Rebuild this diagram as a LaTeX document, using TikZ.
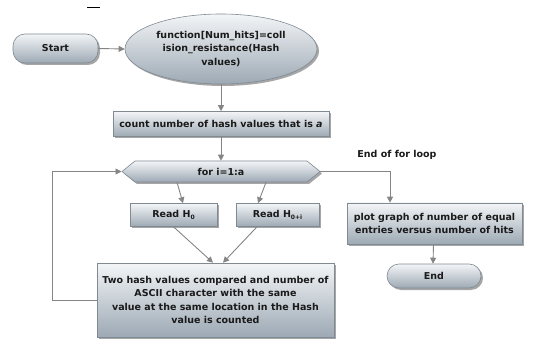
\documentclass[tikz,border=0pt]{standalone}
\usepackage{fontspec}
\setmainfont{DejaVu Sans}
\usetikzlibrary{arrows.meta,shapes.geometric,shapes.symbols,shadows}
\definecolor{boxtop}{HTML}{F3F5F7}
\definecolor{boxbot}{HTML}{9DA9B4}
\definecolor{boxline}{HTML}{7F8A93}
\definecolor{arrcol}{HTML}{858585}
\definecolor{txt}{HTML}{1A1A1A}
\newcommand{\lowsub}[1]{\raisebox{-2.2pt}{\fontsize{6}{6}\selectfont #1}}
\tikzset{
  fc/.style={draw=boxline, line width=0.6pt, top color=boxtop, bottom color=boxbot,
    drop shadow={shadow xshift=2pt, shadow yshift=-2pt, fill=black, opacity=0.35},
    inner sep=0pt, align=center, text=txt,
    font=\fontsize{9.5}{13.2}\selectfont\bfseries},
  rbox/.style={fc, rectangle},
  pill/.style={fc, rectangle, rounded corners=12pt},
  oval/.style={fc, ellipse},
  hexa/.style={fc, signal, signal to=west and east, signal pointer angle=78},
  arr/.style={draw=arrcol, line width=0.9pt, -{Triangle[length=6pt,width=6pt]}, arrcol},
  lbl/.style={text=txt, inner sep=0pt, font=\fontsize{9.5}{13}\selectfont\bfseries}
}
\begin{document}
\begin{tikzpicture}[x=1pt,y=-1pt]
\useasboundingbox (0,0) rectangle (546,339);
\draw[black, line width=1.6pt] (87,7.5) -- (100,7.5);
\node[pill, minimum width=85pt, minimum height=29pt] (start) at (55.5,48.5) {Start};
\node[oval, minimum width=192pt, minimum height=70pt] (func) at (221,49)
  {function[Num\_hits]=coll\\ision\_resistance(Hash\\values)};
\node[rbox, minimum width=216pt, minimum height=25pt] (count) at (221,124)
  {count number of hash values that is \textit{a}};
\node[hexa, minimum width=198pt, minimum height=21pt] (for) at (221,171.5) {for i=1:a};
\node[rbox, minimum width=87pt, minimum height=23pt] (r0) at (173.5,215) {Read H\lowsub{0}};
\node[rbox, minimum width=83pt, minimum height=23pt] (r1) at (277.5,215) {Read H\lowsub{0+i}};
\node[rbox, minimum width=175pt, minimum height=41pt] (plot) at (434.5,223.5)
  {plot graph of number of equal\\entries versus number of hits};
\node[pill, minimum width=94pt, minimum height=24pt] (end) at (434,276) {End};
\node[rbox, minimum width=237pt, minimum height=74pt] (two) at (215.5,300)
  {Two hash values compared and number of\\ASCII character with the same\\value at the same location in the Hash\\value is counted};
\node[lbl] (eol) at (397,155) {End of for loop};
\coordinate (lc) at (52,300);
\draw[arr] (start.east) -- (func.west);
\draw[arr] (func.south) -- (count.north);
\draw[arr] (count.south) -- (for.north);
\draw[arr] ([xshift=-44pt]for.south) -- ([xshift=9.5pt]r0.north);
\draw[arr] ([xshift=45pt]for.south) -- ([xshift=-19.5pt]r1.north);
\draw[arr] (r0.south) -- ([xshift=-2.5pt]two.north);
\draw[arr] ([xshift=-20.5pt]r1.south) -- ([xshift=7.5pt]two.north);
\draw[arr] (two.west) -- (lc) |- (for.west);
\draw[arr] (for.east) -| ([xshift=-44.5pt]plot.north);
\draw[arr] ([xshift=-1pt]plot.south) -- ([xshift=-1pt]end.north);
\end{tikzpicture}
\end{document}
